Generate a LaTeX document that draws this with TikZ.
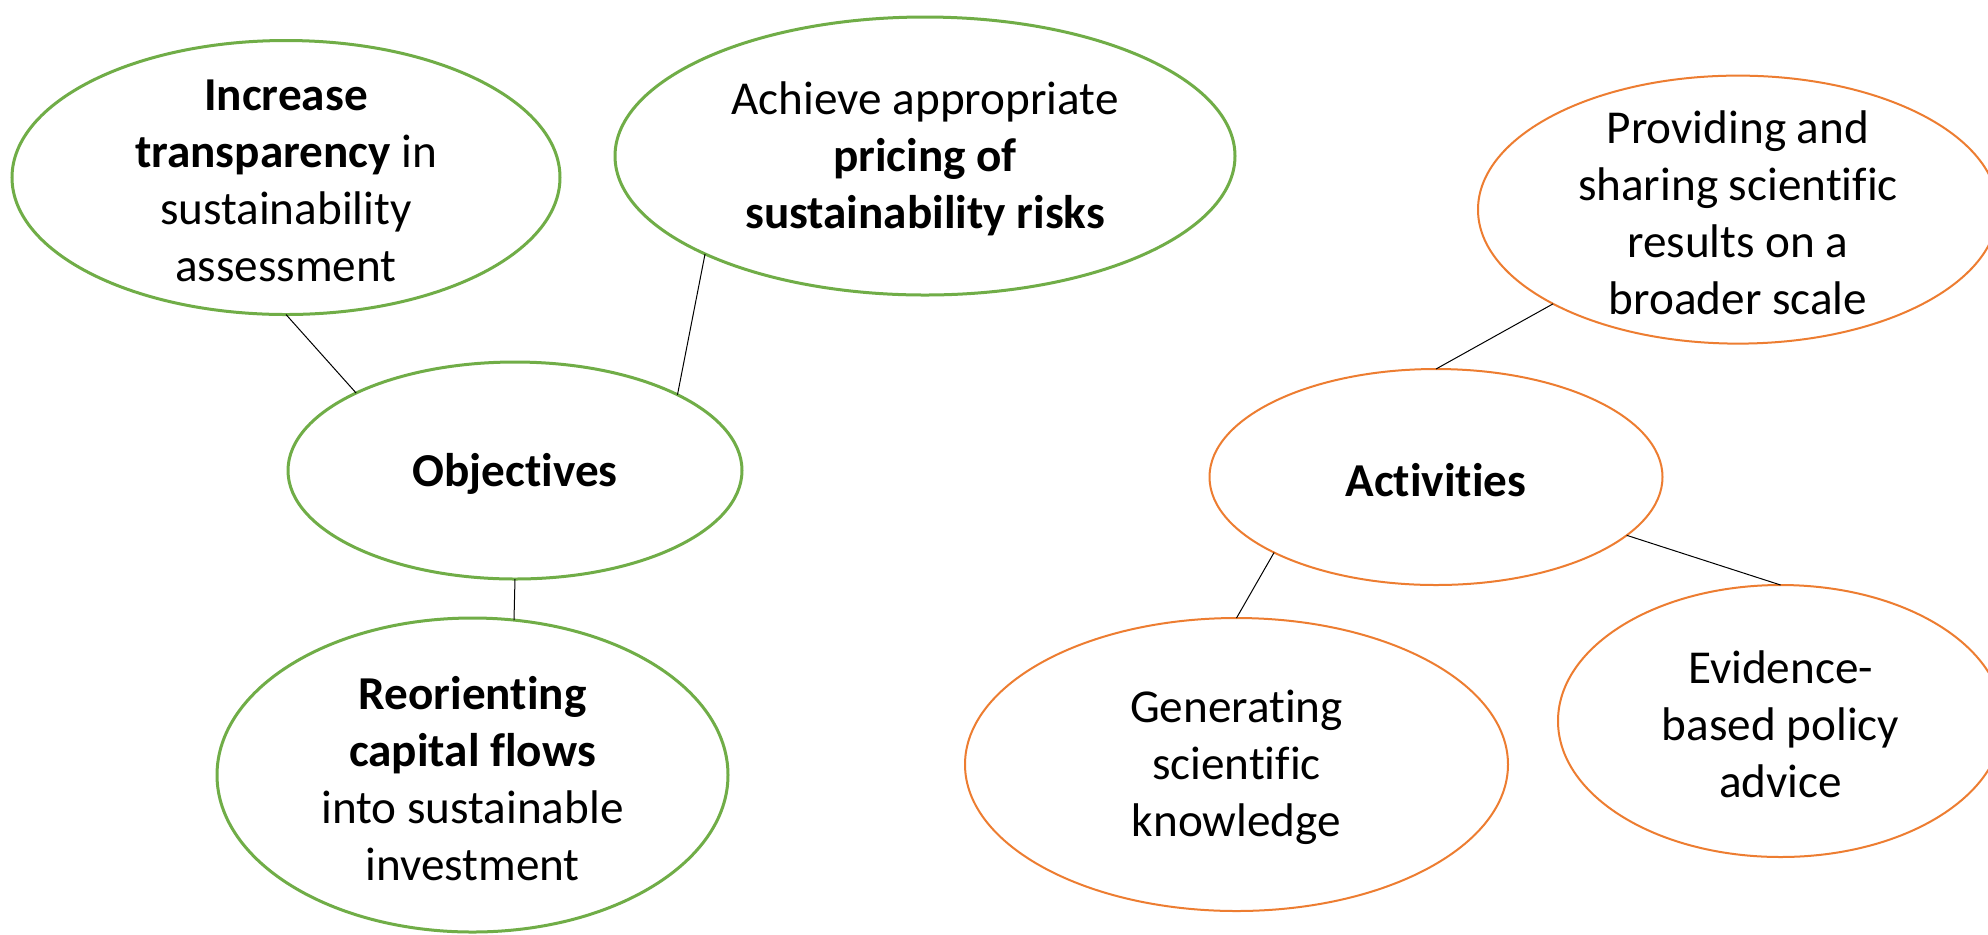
\documentclass[tikz,border=0pt]{standalone}
\usepackage{fontspec}
\setmainfont{Carlito}[Ligatures=NoCommon]
\usetikzlibrary{shapes.geometric}
\definecolor{ogreen}{HTML}{70AD47}
\definecolor{oorange}{HTML}{ED7D31}
\tikzset{
  bub/.style={ellipse, draw, inner sep=0pt, outer sep=0pt, fill=white},
  gbub/.style={bub, draw=ogreen, line width=1.5pt},
  obub/.style={bub, draw=oorange, line width=1pt},
  txt/.style={align=center, inner sep=0pt, font=\fontsize{23.6}{28.5}\selectfont},
  link/.style={draw=black, line width=0.5pt}
}
\begin{document}
\begin{tikzpicture}[x=0.5pt,y=-0.5pt]
\clip (0,0) rectangle (1988,934);
\fill[white] (0,0) rectangle (1988,934);
% ellipses (minimum width = rx pt, minimum height = ry pt, since 1px = 0.5pt)
\node[gbub, minimum width=274pt, minimum height=137pt] (e1) at (286,177.5) {};
\node[gbub, minimum width=310pt, minimum height=139pt] (e2) at (925,156) {};
\node[gbub, minimum width=227pt, minimum height=108.5pt] (obj) at (515,470.5) {};
\node[gbub, minimum width=255.5pt, minimum height=157pt] (e4) at (472.5,775) {};
\node[obub, minimum width=260pt, minimum height=134pt] (e5) at (1738,209.6) {};
\node[obub, minimum width=226.5pt, minimum height=108pt] (act) at (1436,477) {};
\node[obub, minimum width=271.5pt, minimum height=146.5pt] (e7) at (1236.5,764.5) {};
\node[obub, minimum width=222.6pt, minimum height=136pt] (e8) at (1780.6,721) {};
% texts
\node[txt] (t1) at ([yshift=-1.5pt]e1.center) {\textbf{Increase}\\\textbf{transparency} in\\sustainability\\assessment};
\node[txt] (t2) at ([yshift=-1.5pt]e2.center) {Achieve appropriate\\\textbf{pricing of}\\\textbf{sustainability risks}};
\node[txt] (tobj) at ([yshift=-1.5pt]obj.center) {\textbf{Objectives}};
\node[txt] (t4) at ([yshift=-2pt]e4.center) {\textbf{Reorienting}\\\textbf{capital flows}\\into sustainable\\investment};
\node[txt] (t5) at ([yshift=-1.5pt]e5.center) {Providing and\\sharing scientific\\results on a\\broader scale};
\node[txt] (tact) at ([yshift=-1.5pt]act.center) {\textbf{Activities}};
\node[txt] (t7) at ([yshift=-1.5pt]e7.center) {Generating\\scientific\\knowledge};
\node[txt] (t8) at ([yshift=-1.5pt]e8.center) {Evidence-\\based policy\\advice};
% connectors
\draw[link] (e1.south) -- (obj.154.3);
\draw[link] (e2.204.3) -- (obj.25.8);
\draw[link] (obj.south) -- (e4.75);
\draw[link] (e5.207.1) -- (act.north);
\draw[link] (act.205.7) -- (e7.north);
\draw[link] (act.343.5) -- (e8.north);
\end{tikzpicture}
\end{document}
